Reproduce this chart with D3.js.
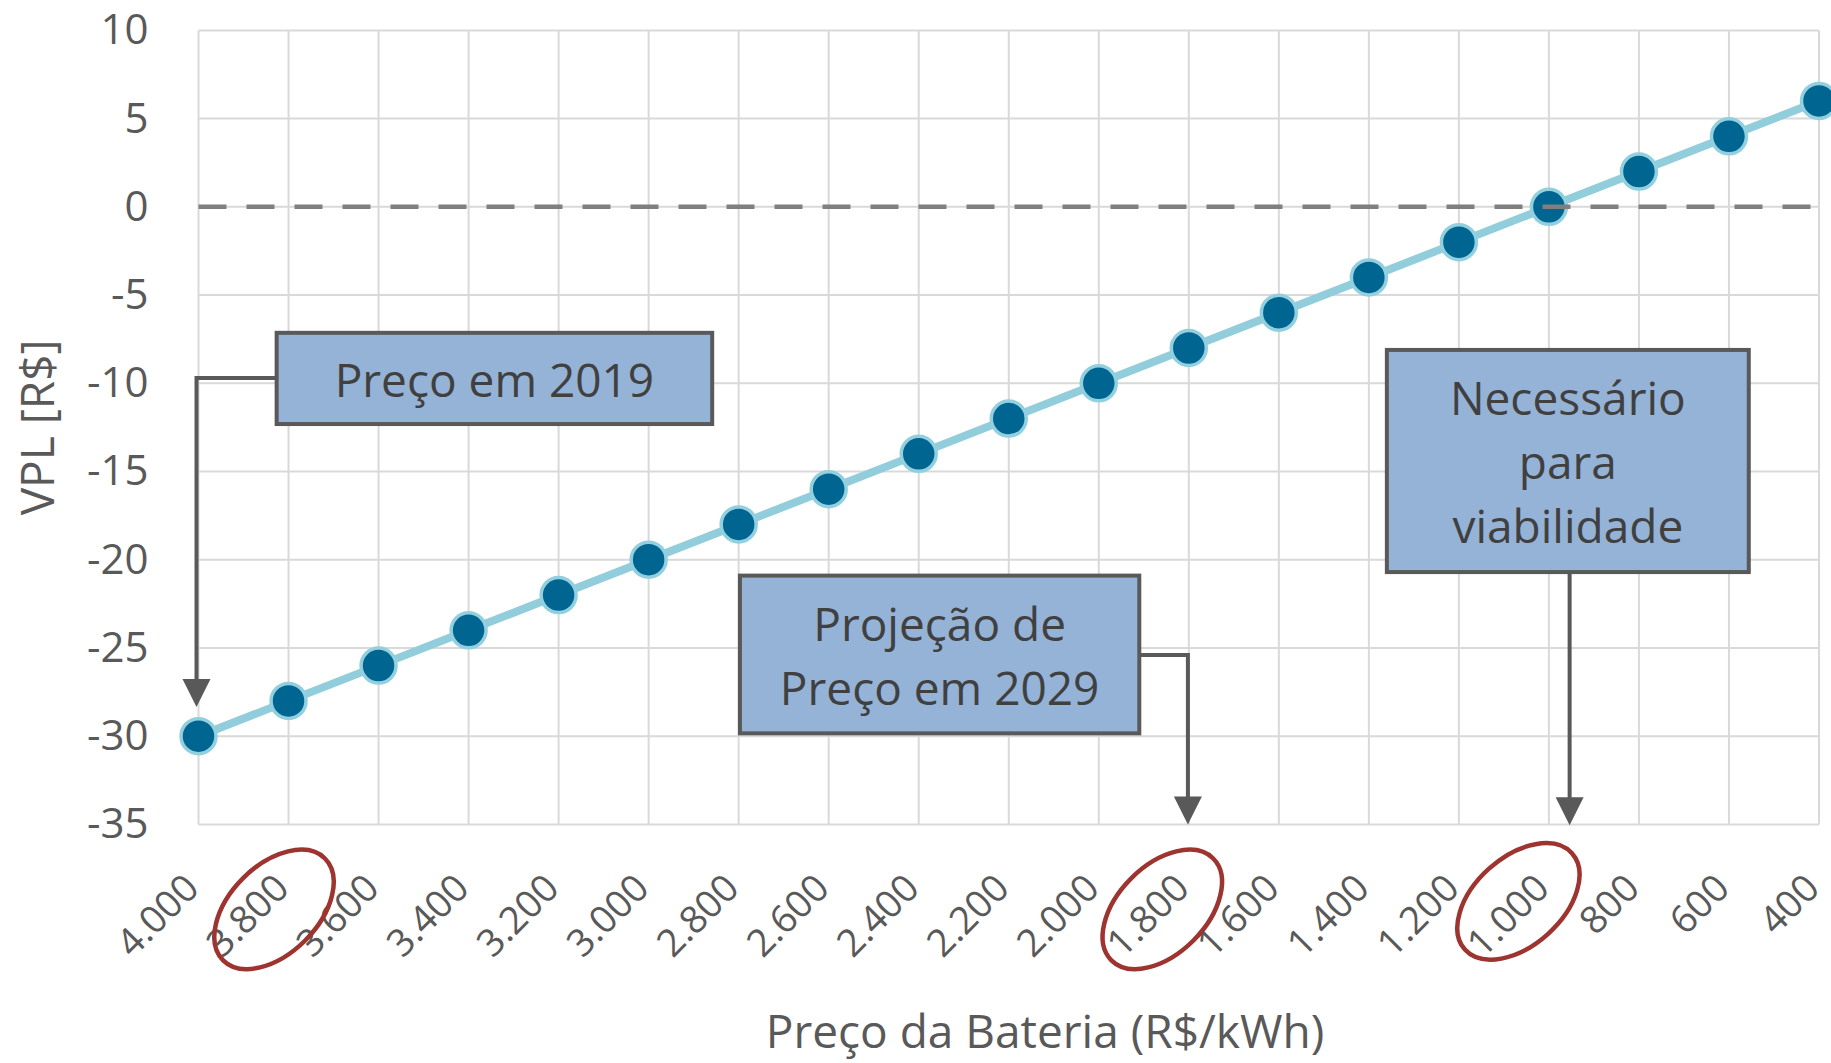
<!DOCTYPE html>
<html>
<head>
<meta charset="utf-8">
<script src="https://cdn.jsdelivr.net/npm/d3@7"></script>
<style>
  html, body { margin: 0; padding: 0; background: #fff; }
  svg { display: block; font-family: "Open Sans", "Noto Sans", sans-serif; }
</style>
</head>
<body>
<script>
// ---- data ----
const categories = ["4.000","3.800","3.600","3.400","3.200","3.000","2.800","2.600","2.400","2.200","2.000","1.800","1.600","1.400","1.200","1.000","800","600","400"];
const vpl = [-30,-28,-26,-24,-22,-20,-18,-16,-14,-12,-10,-8,-6,-4,-2,0,2,4,6];
const yTicks = [10,5,0,-5,-10,-15,-20,-25,-30,-35];
const highlighted = ["3.800","1.800","1.000"];
const noteTexts = [["Preço em 2019"],["Projeção de","Preço em 2029"],["Necessário","para","viabilidade"]];
const xTitle = "Preço da Bateria (R$/kWh)";
const yTitle = "VPL [R$]";

// ---- layout ----
const W = 1831, H = 1063;
const L = 198.5, R = 1819, T = 30.4, B = 824.4;

const svg = d3.select("body").append("svg").attr("width", W).attr("height", H);
svg.append("rect").attr("width", W).attr("height", H).attr("fill", "#fff");

const x = d3.scalePoint().domain(categories).range([L, R]);
const xi = d3.scaleLinear().domain([0, categories.length - 1]).range([L, R]);
const y = d3.scaleLinear().domain([-35, 10]).range([B, T]);

// gridlines
const grid = svg.append("g").attr("stroke", "#d9d9d9").attr("stroke-width", 2);
grid.selectAll("line.h").data(yTicks).join("line")
  .attr("x1", L).attr("x2", R).attr("y1", d => y(d)).attr("y2", d => y(d));
grid.selectAll("line.v").data(categories).join("line")
  .attr("x1", d => x(d)).attr("x2", d => x(d)).attr("y1", T).attr("y2", B);

// y axis
const yAxis = svg.append("g").attr("transform", `translate(${L},0)`)
  .call(d3.axisLeft(y).tickValues(yTicks).tickSize(0).tickPadding(50).tickFormat(d => String(d)));
yAxis.select(".domain").remove();
yAxis.selectAll("text").attr("font-size", 42).attr("fill", "#595959").attr("font-family", "Open Sans");

// x axis
const xAxis = svg.append("g").attr("transform", `translate(0,${B})`)
  .call(d3.axisBottom(x).tickSize(0));
xAxis.select(".domain").remove();
xAxis.selectAll("text")
  .attr("font-size", 38).attr("fill", "#595959").attr("font-family", "Open Sans")
  .attr("text-anchor", "end").attr("x", 0).attr("y", 0).attr("dy", "0.3em")
  .attr("transform", "translate(-6,58) rotate(-45)");

// axis titles
svg.append("text").attr("x", 1045).attr("y", 1032).attr("dy", "0.35em")
  .attr("text-anchor", "middle").attr("font-size", 46).attr("fill", "#595959").text(xTitle);
svg.append("text").attr("transform", `translate(38,${(T + B) / 2}) rotate(-90)`).attr("dy", "0.35em")
  .attr("text-anchor", "middle").attr("font-size", 46).attr("fill", "#595959").text(yTitle);

// series line
const pts = categories.map((c, i) => ({c, v: vpl[i]}));
svg.append("path").datum(pts)
  .attr("fill", "none").attr("stroke", "#92cddc").attr("stroke-width", 8)
  .attr("d", d3.line().x(d => x(d.c)).y(d => y(d.v)));
svg.append("g").selectAll("circle").data(pts).join("circle")
  .attr("cx", d => x(d.c)).attr("cy", d => y(d.v)).attr("r", 17.5)
  .attr("fill", "#006591").attr("stroke", "#92d0e0").attr("stroke-width", 3.5);

// zero dashed line
svg.append("line").attr("x1", L).attr("x2", R).attr("y1", y(0)).attr("y2", y(0))
  .attr("stroke", "#7f7f7f").attr("stroke-width", 4.5).attr("stroke-dasharray", "28,20");

// annotations
const boxes = [
  {x0: 0.868, x1: 5.706, y0: -7.14, y1: -12.31, path: [[0.868, -9.7], [-0.022, -9.7], [-0.022, -28.35]]},
  {x0: 6.014, x1: 10.45, y0: -20.9, y1: -29.84, path: [[10.45, -25.4], [10.99, -25.4], [10.99, -35]]},
  {x0: 13.2, x1: 17.22, y0: -8.11, y1: -20.7, path: [[15.23, -20.7], [15.23, -35.05]]}
];
const ann = svg.append("g");
boxes.forEach((b, k) => {
  const bx0 = xi(b.x0), bx1 = xi(b.x1), by0 = y(b.y0), by1 = y(b.y1);
  // connector
  const p = b.path.map(q => [xi(q[0]), y(q[1])]);
  const tip = p[p.length - 1];
  const head = 28;
  const linePts = p.slice(0, -1).concat([[tip[0], tip[1] - head + 2]]);
  ann.append("path").attr("d", d3.line()(linePts)).attr("fill", "none")
    .attr("stroke", "#595959").attr("stroke-width", 4);
  ann.append("path")
    .attr("d", `M${tip[0]},${tip[1]} L${tip[0] - 14},${tip[1] - head} L${tip[0] + 14},${tip[1] - head} Z`)
    .attr("fill", "#595959");
  // box
  ann.append("rect").attr("x", bx0).attr("y", by0).attr("width", bx1 - bx0).attr("height", by1 - by0)
    .attr("fill", "#95b3d7").attr("stroke", "#595959").attr("stroke-width", 4);
  const lines = noteTexts[k];
  const cx = (bx0 + bx1) / 2, cy = (by0 + by1) / 2, lh = 64;
  lines.forEach((t, j) => {
    ann.append("text").attr("x", cx).attr("y", cy + (j - (lines.length - 1) / 2) * lh + 2)
      .attr("dy", "0.35em").attr("text-anchor", "middle").attr("font-size", 46)
      .attr("fill", "#404040").text(t);
  });
});

// red ellipses around highlighted labels
const ellOff = [[-14.5, 85, -45], [-26.5, 85, -45], [-30.5, 77, -42]];
svg.append("g").selectAll("ellipse").data(highlighted).join("ellipse")
  .attr("transform", (d, i) => `translate(${x(d) + ellOff[i][0]},${B + ellOff[i][1]}) rotate(${ellOff[i][2]})`)
  .attr("rx", 72).attr("ry", 44)
  .attr("fill", "none").attr("stroke", "#9e3430").attr("stroke-width", 4.5);
</script>
</body>
</html>
